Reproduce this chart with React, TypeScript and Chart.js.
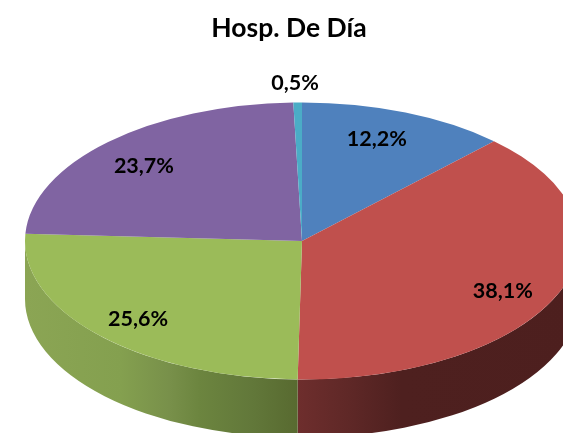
import React, { useEffect, useRef } from "react";
import { Chart, registerables } from "chart.js";

Chart.register(...registerables);

const titleText = "Hosp. De Día";
const categories = ["A", "B", "C", "D", "E"];
const sliceValues = [12.2, 38.1, 25.6, 23.7, 0.5];
const sliceLabels = ["12,2%", "38,1%", "25,6%", "23,7%", "0,5%"];
const sliceColors = ["#4f81bd", "#c0504d", "#9bbb59", "#8064a2", "#4bacc6"];

const FONT = "Lato, Carlito, 'Noto Sans', sans-serif";
const CX = 302;
const CY = 241;
const RX = 277;
const RY = 138.5;
const DEPTH = 58;

const wallStops: Record<number, [number, string][]> = {
  1: [[0, "#6e2e2d"], [0.18, "#5f2827"], [0.37, "#4e201f"], [1, "#4d1f1e"]],
  2: [[0, "#8ba554"], [0.35, "#84a04f"], [0.53, "#78904a"], [0.64, "#6c853f"], [0.83, "#62783a"], [1, "#586a30"]],
  4: [[0, "#3a8296"], [1, "#3a8296"]],
};

const labelNudge: [number, number][] = [[-8, 1], [-4, 8], [-2, 2], [-3, 4], [-2, 0]];

const piePerspective = {
  id: "piePerspective",
  beforeDatasetsDraw(chart: any) {
    const ctx = chart.ctx;
    const arcs = chart.getDatasetMeta(0).data;
    // side wall of the disc, from each arc's own angles
    arcs.forEach((arc: any, i: number) => {
      const stops = wallStops[i];
      if (!stops) return;
      const twoPi = Math.PI * 2;
      let a = arc.startAngle;
      let b = arc.endAngle;
      while (a < -Math.PI) { a += twoPi; b += twoPi; }
      a = Math.max(a, 0);
      b = Math.min(b, Math.PI);
      if (b <= a) return;
      const x0 = CX + RX * Math.cos(b);
      const x1 = CX + RX * Math.cos(a);
      const g = ctx.createLinearGradient(x0, 0, x1, 0);
      stops.forEach(([p, c]) => g.addColorStop(p, c));
      ctx.save();
      ctx.fillStyle = g;
      ctx.beginPath();
      ctx.ellipse(CX, CY, RX, RY, 0, a, b);
      ctx.ellipse(CX, CY + DEPTH, RX, RY, 0, b, a, true);
      ctx.closePath();
      ctx.fill();
      ctx.restore();
    });
    const first = arcs[0];
    const r = first.outerRadius;
    ctx.save();
    ctx.translate(CX, CY);
    ctx.scale(RX / r, RY / r);
    ctx.translate(-first.x, -first.y);
  },
  afterDatasetsDraw(chart: any) {
    const ctx = chart.ctx;
    ctx.restore();
    const arcs = chart.getDatasetMeta(0).data;
    ctx.save();
    ctx.fillStyle = "#000";
    ctx.font = `bold 21.5px ${FONT}`;
    ctx.textAlign = "center";
    ctx.textBaseline = "middle";
    arcs.forEach((arc: any, i: number) => {
      const mid = (arc.startAngle + arc.endAngle) / 2;
      const f = sliceValues[i] < 1 ? 1.14 : 0.8;
      const [nx, ny] = labelNudge[i];
      ctx.fillText(sliceLabels[i], CX + RX * f * Math.cos(mid) + nx, CY + RY * f * Math.sin(mid) + ny);
    });
    ctx.restore();
  },
};

export default function App() {
  const ref = useRef<HTMLCanvasElement>(null);
  useEffect(() => {
    const chart = new Chart(ref.current!, {
      type: "pie",
      data: {
        labels: categories,
        datasets: [{ data: sliceValues, backgroundColor: sliceColors, borderWidth: 0, clip: false } as any],
      },
      options: {
        responsive: false,
        animation: false,
        layout: { padding: { left: 15, top: 13 } },
        plugins: {
          legend: { display: false },
          tooltip: { enabled: false },
          title: {
            display: true,
            text: titleText,
            color: "#000",
            font: { family: FONT, size: 26.5, weight: "bold" },
            padding: { top: 0, bottom: 0 },
          },
        },
      },
      plugins: [piePerspective],
    });
    return () => chart.destroy();
  }, []);
  return (
    <canvas
      ref={ref}
      width={563}
      height={433}
      style={{ position: "fixed", left: 0, top: 0, width: 563, height: 433, display: "block" }}
    />
  );
}
